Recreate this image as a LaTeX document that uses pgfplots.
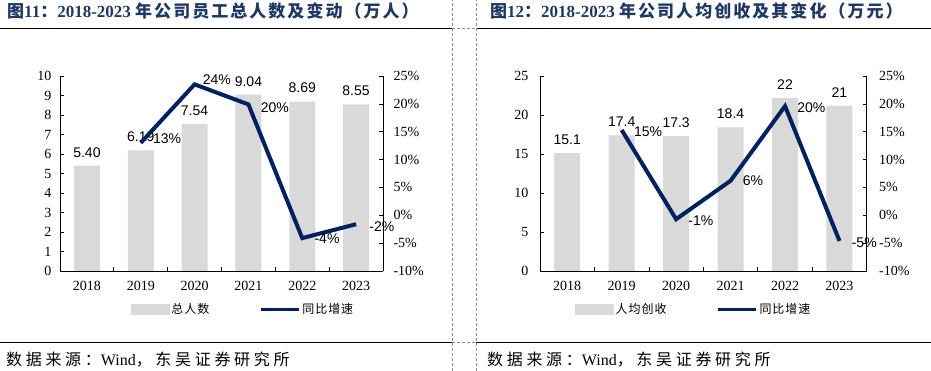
\documentclass[border=0pt]{standalone}
\usepackage{fontspec}
\setmainfont{Liberation Serif}
\setsansfont{Liberation Sans}
\newfontfamily\cjk{Noto Sans CJK SC}
\newfontfamily\cjkt[LetterSpace=12]{Noto Sans CJK SC}
\newfontfamily\cjks[LetterSpace=23]{Noto Sans CJK SC}
\newfontfamily\cjkl[LetterSpace=8]{Noto Sans CJK SC}
\usepackage{pgfplots}
\pgfplotsset{compat=1.18}
\definecolor{barg}{RGB}{217,217,217}
\definecolor{navy}{RGB}{0,32,96}
\definecolor{ttl}{RGB}{31,56,100}

\pgfplotstableread{
x y
0 5.40
1 6.19
2 7.54
3 9.04
4 8.69
5 8.55
}\staff
\pgfplotstableread{
x y lab dx dy
1 13 13 7 4
2 23.5 24 3 5
3 19.9 20 7 -3
4 -4.1 -4 7 -1
5 -1.6 -2 8 -2
}\staffg
\pgfplotstableread{
x y lab
0 15.1 15.1
1 17.4 17.4
2 17.3 17.3
3 18.4 18.4
4 22.2 22
5 21.2 21
}\rev
\pgfplotstableread{
x y lab dx dy
1 15.3 15 7 -2
2 -0.7 -1 7 -2
3 6.2 6 7 0
4 19.6 20 7 -2
5 -4.6 -5 7 -2
}\revg

\pgfplotsset{
  base/.style={
    scale only axis, height=195pt,
    xmin=-0.5, xmax=5.5,
    /pgf/number format/assume math mode=true,
    tick align=inside, major tick length=4pt, minor tick length=4pt,
    tick style={black, line width=0.7pt},
    axis line style={black, line width=0.8pt},
    ticklabel style={font=\fontsize{14}{14}\selectfont},
    clip=false,
  },
  leftax/.style={
    base, axis x line*=bottom, axis y line*=left,
    xtick={0,...,5}, xticklabels={2018,2019,2020,2021,2022,2023},
    major x tick style={draw=none},
    minor xtick={0.5,1.5,2.5,3.5,4.5},
    xticklabel style={yshift=-7pt},
  },
  rightax/.style={
    base, axis x line=none, axis y line*=right,
    ymin=-10, ymax=25, ytick={-10,-5,...,25},
    yticklabel={\pgfmathprintnumber{\tick}\%},
    legend columns=2,
    legend cell align=left,
    legend style={draw=none, fill=none, anchor=west,
      font=\cjkl\fontsize{12}{12}\selectfont,
      /tikz/every even column/.append style={column sep=48pt}},
  },
  linelab/.style={
    point meta=explicit symbolic,
    visualization depends on={\thisrow{dx}\as\dx},
    visualization depends on={\thisrow{dy}\as\dy},
    nodes near coords={\pgfplotspointmeta\%},
    every node near coord/.append style={anchor=west, font=\sffamily\fontsize{14}{14}\selectfont, text=black, xshift=\dx pt, yshift=\dy pt},
  },
}

\begin{document}
\begin{tikzpicture}
\path[use as bounding box] (0,0) rectangle (931pt,371pt);

% decorations
\draw[line width=1.2pt] (0,342.7pt) -- (452.3pt,342.7pt);
\draw[line width=1.2pt] (476pt,342.7pt) -- (931pt,342.7pt);
\draw[line width=1.2pt] (0,28.7pt) -- (452.3pt,28.7pt);
\draw[line width=1.2pt] (476pt,28.7pt) -- (931pt,28.7pt);
\begin{scope}[black!45, line width=0.7pt, dash pattern=on 3pt off 2pt]
\draw (452.3pt,0) -- (452.3pt,371pt);
\draw (476pt,0) -- (476pt,371pt);
\draw (452.3pt,342.7pt) -- (476pt,342.7pt);
\draw (452.3pt,28.7pt) -- (476pt,28.7pt);
\end{scope}

\node[anchor=west, inner sep=0, text=ttl] at (7pt,359.5pt)
 {\fontsize{17}{17}\selectfont\bfseries{\cjkt 图}11{\cjkt ：}2018-2023 {\cjkt 年公司员工总人数及变动（万人）}};
\node[anchor=west, inner sep=0, text=ttl] at (490pt,359.5pt)
 {\fontsize{17}{17}\selectfont\bfseries{\cjkt 图}12{\cjkt ：}2018-2023 {\cjkt 年公司人均创收及其变化（万元）}};
\node[anchor=west, inner sep=0] at (6pt,11pt)
 {\fontsize{16}{16}\selectfont{\cjks 数据来源：}Wind{\cjks ，东吴证券研究所}};
\node[anchor=west, inner sep=0] at (487pt,11pt)
 {\fontsize{16}{16}\selectfont{\cjks 数据来源：}Wind{\cjks ，东吴证券研究所}};

% ---------- left chart ----------
\begin{axis}[leftax, width=323pt, at={(60pt,100pt)}, anchor=south west,
  ymin=0, ymax=10, ytick={0,...,10}, yticklabel style={xshift=-5pt}]
\addplot[ybar, bar width=26pt, fill=barg, draw=none,
  nodes near coords={\pgfmathprintnumber[fixed,fixed zerofill,precision=2]{\pgfplotspointmeta}},
  every node near coord/.append style={font=\sffamily\fontsize{14}{14}\selectfont, text=black, yshift=5pt}]
  table[x=x,y=y] {\staff};
\end{axis}
\begin{axis}[rightax, width=323pt, at={(60pt,100pt)}, anchor=south west,
  yticklabel style={xshift=7pt},
  legend style={at={(axis description cs:0.21,-0.195)}}]
\addlegendimage{legend image code/.code={\fill[barg] (0pt,-5pt) rectangle (38pt,5pt);}}
\addlegendentry{总人数}
\addplot[navy, line width=4pt,
  legend image code/.code={\draw[navy, line width=3pt] (0pt,0pt) -- (38pt,0pt);},
  linelab]
  table[x=x,y=y,meta=lab] {\staffg};
\addlegendentry{同比增速}
\end{axis}

% ---------- right chart ----------
\begin{axis}[leftax, width=326.7pt, at={(540pt,100pt)}, anchor=south west,
  ymin=0, ymax=25, ytick={0,5,...,25}, yticklabel style={xshift=-8pt}]
\addplot[ybar, bar width=26pt, fill=barg, draw=none,
  point meta=explicit symbolic,
  nodes near coords,
  every node near coord/.append style={font=\sffamily\fontsize{14}{14}\selectfont, text=black, yshift=5pt}]
  table[x=x,y=y,meta=lab] {\rev};
\end{axis}
\begin{axis}[rightax, width=326.7pt, at={(540pt,100pt)}, anchor=south west,
  yticklabel style={xshift=9pt},
  legend style={at={(axis description cs:0.098,-0.195)}}]
\addlegendimage{legend image code/.code={\fill[barg] (0pt,-5pt) rectangle (38pt,5pt);}}
\addlegendentry{人均创收}
\addplot[navy, line width=4pt,
  legend image code/.code={\draw[navy, line width=3pt] (0pt,0pt) -- (38pt,0pt);},
  linelab]
  table[x=x,y=y,meta=lab] {\revg};
\addlegendentry{同比增速}
\end{axis}
\end{tikzpicture}
\end{document}
